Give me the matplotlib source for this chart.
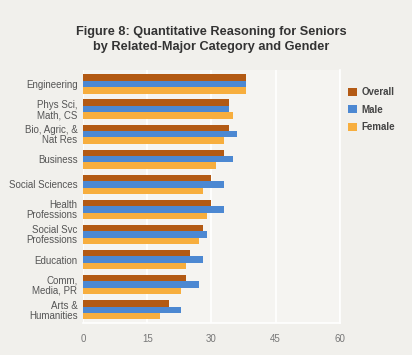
import matplotlib.pyplot as plt
import numpy as np

categories = ["Engineering", "Phys Sci,\nMath, CS", "Bio, Agric, &\nNat Res", "Business",
              "Social Sciences", "Health\nProfessions", "Social Svc\nProfessions", "Education",
              "Comm,\nMedia, PR", "Arts &\nHumanities"]
overall = [38, 34, 34, 33, 30, 30, 28, 25, 24, 20]
male = [38, 34, 36, 35, 33, 33, 29, 28, 27, 23]
female = [38, 35, 33, 31, 28, 29, 27, 24, 23, 18]
series_names = ["Overall", "Male", "Female"]
xticks = [0, 15, 30, 45, 60]

colors = ["#b35a14", "#4c88d2", "#f7ae3e"]
plt.rcParams['font.family'] = ['Liberation Sans', 'DejaVu Sans']

fig = plt.figure(figsize=(4.12, 3.55), dpi=100, facecolor="#f1f0ec")
ax = fig.add_axes([0.2015, 0.090, 0.6235, 0.713])
ax.set_facecolor("#f5f4f1")

n = len(categories)
y = np.arange(n)
h = 0.255
for i, (vals, name) in enumerate(zip([overall, male, female], series_names)):
    ax.barh(y + (i - 1) * h, vals, height=h, color=colors[i], label=name, zorder=3)

ax.set_ylim(n - 0.5 + 0.03, -0.5 - 0.06)
ax.set_xlim(0, 60)
ax.set_xticks(xticks)
ax.set_xticklabels([str(t) for t in xticks], fontsize=7, color="#777777")
ax.set_yticks(y)
ax.set_yticklabels(categories, fontsize=7, color="#555555", linespacing=1.0)
ax.tick_params(axis='both', length=0)
ax.tick_params(axis='x', pad=8)
ax.tick_params(axis='y', pad=4)
ax.grid(axis='x', color="white", linewidth=1.2, zorder=1)
for s in ["top", "left"]:
    ax.spines[s].set_visible(False)
for s in ["bottom", "right"]:
    ax.spines[s].set_color("white")
    ax.spines[s].set_linewidth(1.2)

fig.text(0.512, 0.889, "Figure 8: Quantitative Reasoning for Seniors\nby Related-Major Category and Gender",
         ha="center", va="center", fontsize=9.2, fontweight="bold", color="#333333", linespacing=1.3)

leg = fig.legend(loc="upper left", bbox_to_anchor=(0.835, 0.765), frameon=False, fontsize=7,
                 handlelength=0.9, handleheight=0.9, handletextpad=0.5, labelspacing=0.75,
                 borderaxespad=0)
for t in leg.get_texts():
    t.set_fontweight("bold")
    t.set_color("#444444")

fig.savefig("out.png", dpi=100, facecolor=fig.get_facecolor())
